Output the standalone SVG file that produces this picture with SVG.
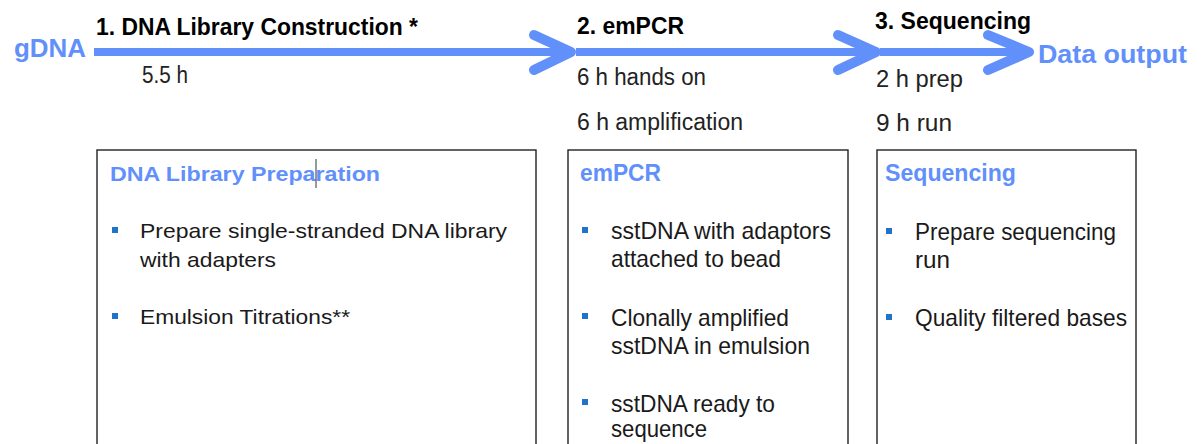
<svg xmlns="http://www.w3.org/2000/svg" width="1202" height="444" viewBox="0 0 1202 444">
<style>
.arrow{stroke:#6190fb;fill:none;stroke-linecap:round;stroke-linejoin:round}
.shaft{stroke-width:8;stroke-linecap:butt}
.head{stroke-width:10}
.step{font-family:"Liberation Sans",Arial,sans-serif;font-weight:bold;font-size:23px;fill:#000}
.time{font-family:"Liberation Sans",Arial,sans-serif;font-size:23px;fill:#222}
.io{font-family:"Liberation Sans",Arial,sans-serif;font-weight:bold;font-size:25px;fill:#6190fb}
.box{fill:#fff;stroke:#222;stroke-width:1.4}
.head2{font-family:"Liberation Sans",Arial,sans-serif;font-weight:bold;font-size:21px;fill:#6190fb}
.head3{font-family:"Liberation Sans",Arial,sans-serif;font-weight:bold;font-size:24px;fill:#6190fb}
.body{font-family:"Liberation Sans",Arial,sans-serif;font-size:21px;fill:#1a1a1a}
.body2{font-family:"Liberation Sans",Arial,sans-serif;font-size:24px;fill:#1a1a1a}
.bul{fill:#1f73c8}
</style>
<rect width="1202" height="444" fill="#fff"/>
<g id="connectors">
<line class="arrow shaft" x1="94" y1="52" x2="572" y2="52"/>
<polyline class="arrow head" points="534,35 571,52 534,70"/>
<line class="arrow shaft" x1="576" y1="52" x2="877" y2="52"/>
<polyline class="arrow head" points="838,35 876,52 838,70"/>
<line class="arrow shaft" x1="880" y1="52" x2="1030" y2="52"/>
<polyline class="arrow head" points="988,35 1029,52 988,70"/>
</g>
<g id="gDNA"><text class="io" x="14" y="57" textLength="72" lengthAdjust="spacingAndGlyphs">gDNA</text></g>
<g id="data-output"><text class="io" x="1038" y="63" textLength="149" lengthAdjust="spacingAndGlyphs">Data output</text></g>
<g id="step1">
<text class="step" x="96" y="35" textLength="322" lengthAdjust="spacingAndGlyphs">1. DNA Library Construction *</text>
<text class="time" x="142" y="83" textLength="46" lengthAdjust="spacingAndGlyphs">5.5 h</text>
</g>
<g id="step2">
<text class="step" x="577" y="34" textLength="107" lengthAdjust="spacingAndGlyphs">2. emPCR</text>
<text class="time" x="577" y="85" textLength="129" lengthAdjust="spacingAndGlyphs">6 h hands on</text>
<text class="time" x="577" y="130" textLength="166" lengthAdjust="spacingAndGlyphs">6 h amplification</text>
</g>
<g id="step3">
<text class="step" x="875" y="29" textLength="156" lengthAdjust="spacingAndGlyphs">3. Sequencing</text>
<text class="time" x="876" y="87" textLength="87" lengthAdjust="spacingAndGlyphs">2 h prep</text>
<text class="time" x="876" y="131" textLength="76" lengthAdjust="spacingAndGlyphs">9 h run</text>
</g>
<g id="box-library">
<rect class="box" x="97" y="150" width="439" height="320"/>
<text class="head2" x="110" y="181" textLength="270" lengthAdjust="spacingAndGlyphs">DNA Library Preparation</text>
<line x1="316" y1="159" x2="316" y2="188" stroke="#333" stroke-width="1"/>
<rect class="bul" x="112" y="227" width="6" height="6"/>
<text class="body" x="140" y="238" textLength="367" lengthAdjust="spacingAndGlyphs">Prepare single-stranded DNA library</text>
<text class="body" x="140" y="267" textLength="136" lengthAdjust="spacingAndGlyphs">with adapters</text>
<rect class="bul" x="112" y="313" width="6" height="6"/>
<text class="body" x="140" y="324" textLength="210" lengthAdjust="spacingAndGlyphs">Emulsion Titrations**</text>
</g>
<g id="box-empcr">
<rect class="box" x="568" y="150" width="280" height="320"/>
<text class="head3" x="580" y="181" textLength="81" lengthAdjust="spacingAndGlyphs">emPCR</text>
<rect class="bul" x="582" y="227" width="6" height="6"/>
<text class="body2" x="611" y="239" textLength="220" lengthAdjust="spacingAndGlyphs">sstDNA with adaptors</text>
<text class="body2" x="611" y="267" textLength="170" lengthAdjust="spacingAndGlyphs">attached to bead</text>
<rect class="bul" x="582" y="313" width="6" height="6"/>
<text class="body2" x="611" y="326" textLength="178" lengthAdjust="spacingAndGlyphs">Clonally amplified</text>
<text class="body2" x="611" y="354" textLength="199" lengthAdjust="spacingAndGlyphs">sstDNA in emulsion</text>
<rect class="bul" x="582" y="399" width="6" height="6"/>
<text class="body2" x="611" y="412" textLength="164" lengthAdjust="spacingAndGlyphs">sstDNA ready to</text>
<text class="body2" x="611" y="437" textLength="96" lengthAdjust="spacingAndGlyphs">sequence</text>
</g>
<g id="box-sequencing">
<rect class="box" x="877" y="150" width="259" height="320"/>
<text class="head3" x="885" y="181" textLength="131" lengthAdjust="spacingAndGlyphs">Sequencing</text>
<rect class="bul" x="886" y="228" width="6" height="6"/>
<text class="body2" x="915" y="240" textLength="201" lengthAdjust="spacingAndGlyphs">Prepare sequencing</text>
<text class="body2" x="915" y="268" textLength="35" lengthAdjust="spacingAndGlyphs">run</text>
<rect class="bul" x="886" y="314" width="6" height="6"/>
<text class="body2" x="915" y="326" textLength="212" lengthAdjust="spacingAndGlyphs">Quality filtered bases</text>
</g>
</svg>
